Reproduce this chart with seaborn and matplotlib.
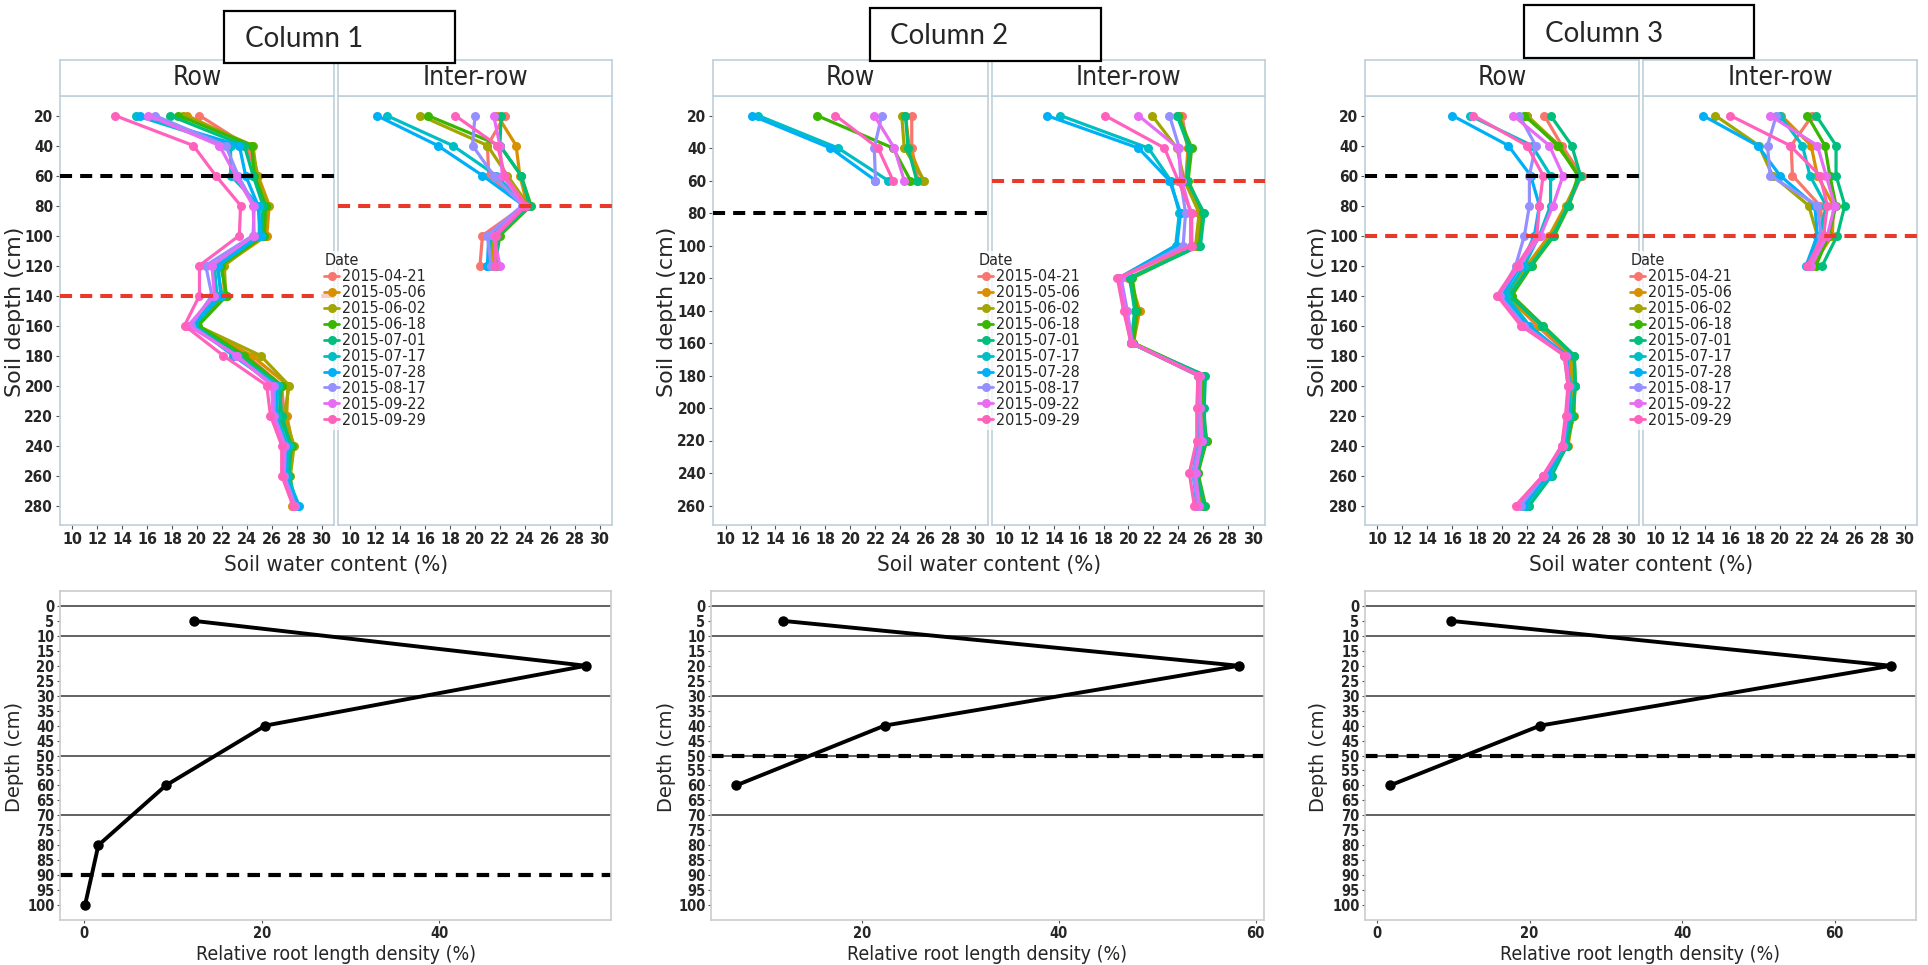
import numpy as np
import pandas as pd
import matplotlib
matplotlib.use("Agg")
import matplotlib.pyplot as plt
import seaborn as sns
from matplotlib import font_manager as fm
from matplotlib.lines import Line2D
from matplotlib.patches import Rectangle

# ---------------- data ----------------
dates = ["2015-04-21", "2015-05-06", "2015-06-02", "2015-06-18", "2015-07-01",
         "2015-07-17", "2015-07-28", "2015-08-17", "2015-09-22", "2015-09-29"]
date_colors = ["#F8766D", "#D89000", "#A3A500", "#39B600", "#00BF7D",
               "#00BFC4", "#00B0F6", "#9590FF", "#E76BF3", "#FF62BC"]

depth_long = [20, 40, 60, 80, 100, 120, 140, 160, 180, 200, 220, 240, 260, 280]
depth_c2 = [20, 40, 60, 80, 100, 120, 140, 160, 180, 200, 220, 240, 260]
depth_short = [20, 40, 60, 80, 100, 120]
depth_c2_row = [20, 40, 60]

# Column 1, Row (rows = dates)
c1_row = [
    [20.2, 24.0, 24.8, 25.6, 25.5, 22.0, 22.3, 19.8, 24.0, 26.8, 27.0, 27.6, 27.2, 27.8],
    [19.2, 24.3, 24.9, 25.8, 25.6, 22.1, 22.2, 19.9, 24.4, 27.3, 27.2, 27.7, 27.4, 27.6],
    [18.9, 24.5, 24.8, 25.7, 25.3, 22.2, 22.3, 20.0, 25.1, 27.4, 27.0, 27.8, 27.5, 27.7],
    [18.5, 24.4, 24.6, 25.5, 25.4, 21.9, 22.4, 20.1, 23.8, 26.8, 26.6, 27.6, 27.3, 27.9],
    [17.8, 23.8, 24.5, 25.3, 25.2, 21.6, 22.0, 19.8, 23.4, 26.6, 26.8, 27.5, 27.4, 28.0],
    [15.1, 22.7, 22.7, 25.0, 25.0, 21.4, 21.6, 19.6, 23.0, 26.5, 26.4, 27.3, 27.2, 28.2],
    [15.4, 23.4, 23.9, 24.9, 25.1, 21.7, 21.9, 19.7, 22.9, 26.3, 26.3, 27.2, 27.1, 28.1],
    [16.6, 22.3, 23.3, 24.6, 24.5, 20.7, 21.2, 19.5, 23.1, 26.2, 26.2, 27.1, 27.0, 27.9],
    [16.1, 21.8, 23.1, 24.5, 24.6, 21.2, 21.4, 19.3, 23.2, 26.0, 26.1, 27.0, 26.9, 27.8],
    [13.4, 19.7, 21.5, 23.5, 23.4, 20.2, 20.2, 19.0, 22.1, 25.6, 25.9, 26.8, 26.8, 27.7],
]
# Column 1, Inter-row
c1_inter = [
    [22.4, 21.0, 21.1, 24.0, 20.6, 20.4],
    [21.8, 23.3, 23.6, 24.2, 21.6, 21.4],
    [15.6, 21.0, 22.6, 24.3, 21.4, 21.2],
    [16.2, 22.0, 23.7, 24.5, 22.0, 21.6],
    [22.1, 22.0, 23.7, 24.4, 21.8, 21.8],
    [12.9, 18.2, 21.7, 24.0, 21.3, 21.0],
    [12.1, 17.0, 20.6, 23.9, 21.1, 21.0],
    [20.0, 19.8, 21.5, 23.8, 21.0, 21.3],
    [21.5, 22.0, 22.2, 23.9, 21.5, 22.0],
    [18.4, 21.8, 22.4, 24.1, 21.7, 21.6],
]
# Column 2, Row
c2_row = [
    [24.9, 24.9, 25.4],
    [24.4, 24.7, 25.8],
    [24.1, 24.3, 25.9],
    [17.3, 23.4, 24.8],
    [24.4, 24.6, 25.3],
    [12.6, 19.0, 23.0],
    [12.1, 18.4, 22.0],
    [22.5, 21.9, 22.0],
    [21.9, 23.5, 24.3],
    [18.8, 22.2, 23.4],
]
# Column 2, Inter-row
c2_inter = [
    [24.3, 24.8, 24.6, 25.7, 25.5, 20.0, 20.8, 20.3, 25.9, 26.0, 26.2, 25.6, 26.0],
    [24.1, 24.8, 24.7, 25.8, 25.6, 20.1, 20.9, 20.4, 26.0, 25.9, 26.3, 25.5, 26.1],
    [21.9, 23.9, 24.5, 25.7, 25.4, 20.2, 20.6, 20.3, 25.9, 25.8, 26.1, 25.4, 25.9],
    [24.0, 25.1, 24.8, 26.0, 25.7, 20.3, 20.7, 20.4, 26.1, 26.0, 26.3, 25.6, 26.2],
    [23.9, 24.9, 24.7, 26.1, 25.8, 20.1, 20.5, 20.2, 26.2, 26.1, 26.2, 25.5, 26.1],
    [14.5, 21.6, 23.4, 24.1, 23.8, 19.3, 19.8, 20.2, 25.6, 25.7, 25.7, 25.3, 25.6],
    [13.4, 20.8, 23.3, 24.2, 23.9, 19.2, 19.7, 20.2, 25.6, 25.6, 25.6, 25.2, 25.5],
    [23.3, 24.1, 24.2, 24.6, 24.4, 19.4, 19.9, 20.3, 25.7, 25.7, 25.8, 25.2, 25.6],
    [20.8, 24.0, 24.3, 25.0, 25.0, 19.3, 19.8, 20.3, 25.8, 25.8, 25.9, 25.4, 25.7],
    [18.1, 22.9, 24.0, 25.1, 25.1, 19.1, 19.6, 20.2, 25.6, 25.5, 25.5, 24.9, 25.3],
]
# Column 3, Row
c3_row = [
    [23.4, 24.8, 26.4, 25.3, 24.1, 22.2, 20.4, 22.8, 25.4, 25.7, 25.6, 25.1, 23.6, 21.6],
    [22.0, 24.4, 26.3, 25.1, 23.8, 22.0, 20.2, 23.0, 25.5, 25.6, 25.7, 25.3, 23.7, 21.8],
    [22.0, 24.6, 26.2, 25.2, 24.0, 22.2, 20.5, 23.2, 25.6, 25.8, 25.8, 25.1, 23.8, 21.9],
    [21.8, 24.5, 26.1, 25.4, 24.2, 22.4, 20.8, 23.3, 25.8, 25.9, 25.7, 25.2, 23.9, 22.1],
    [23.9, 25.6, 26.3, 25.3, 24.1, 22.3, 20.6, 23.2, 25.8, 25.9, 25.6, 25.2, 24.0, 22.2],
    [17.4, 22.4, 23.9, 23.9, 23.0, 21.8, 20.3, 22.2, 25.1, 25.5, 25.4, 25.0, 23.8, 21.9],
    [16.0, 20.5, 22.3, 23.0, 22.6, 21.5, 20.0, 22.0, 25.2, 25.4, 25.3, 24.9, 23.6, 21.7],
    [21.4, 22.7, 22.2, 22.2, 21.8, 21.1, 19.8, 21.8, 25.0, 25.3, 25.2, 24.8, 23.4, 21.5],
    [20.9, 23.8, 24.9, 24.1, 23.1, 21.4, 19.7, 21.6, 25.1, 25.4, 25.2, 24.9, 23.3, 21.2],
    [17.7, 22.0, 23.3, 23.0, 22.8, 21.2, 19.6, 21.5, 25.0, 25.3, 25.1, 24.8, 23.3, 21.1],
]
# Column 3, Inter-row
c3_inter = [
    [22.6, 20.9, 21.0, 23.2, 23.6, 22.5],
    [20.1, 22.5, 23.0, 24.3, 24.2, 22.6],
    [14.8, 18.3, 19.4, 22.3, 23.0, 22.2],
    [22.2, 23.6, 24.0, 24.5, 23.9, 22.9],
    [22.9, 24.5, 24.5, 25.2, 24.6, 23.4],
    [20.0, 21.8, 22.4, 23.7, 23.2, 22.3],
    [13.8, 18.2, 20.0, 22.8, 23.0, 22.1],
    [19.7, 19.0, 19.2, 23.0, 23.3, 22.4],
    [19.2, 23.0, 23.7, 24.4, 23.8, 22.5],
    [16.0, 20.8, 23.2, 23.8, 23.5, 22.2],
]

# Relative root length density
root_depth_c1 = [5, 20, 40, 60, 80, 100]
rld_c1 = [12.4, 56.5, 20.4, 9.2, 1.6, 0.1]
root_depth_c2 = [5, 20, 40, 60]
rld_c2 = [12.0, 58.3, 22.3, 7.2]
root_depth_c3 = [5, 20, 40, 60]
rld_c3 = [9.7, 67.4, 21.4, 1.7]

column_titles = ["Column 1", "Column 2", "Column 3"]
facet_labels = ["Row", "Inter-row"]
swc_ticks = [10, 12, 14, 16, 18, 20, 22, 24, 26, 28, 30]
depth_ticks_bottom = list(range(0, 101, 5))

# reference lines
black_lines = [60, 80, 60]            # Row panel, black dashed
red_lines_row = [140, None, 100]      # Row panel, red dashed
red_lines_inter = [80, 60, 100]       # Inter-row panel, red dashed
solid_lines_bottom = [0, 10, 30, 50, 70]
dashed_bottom = [90, 50, 50]

# ---------------- style ----------------
sns.set_theme(style="white")
plt.rcParams["font.family"] = ["DejaVu Sans"]

names = {f.name for f in fm.fontManager.ttflist}
if "Liberation Sans Narrow" in names:
    NARROW = dict(family="Liberation Sans Narrow")
elif any(f.name == "DejaVu Sans" and f.stretch == "condensed" for f in fm.fontManager.ttflist):
    NARROW = dict(family="DejaVu Sans", stretch="condensed")
else:
    NARROW = dict(family="Liberation Sans")

W, H = 1928, 965
fig = plt.figure(figsize=(W / 100, H / 100), dpi=100)
fig.patch.set_facecolor("white")


def rect(x0, x1, y0, y1):
    return [x0 / W, 1 - y1 / H, (x1 - x0) / W, (y1 - y0) / H]


BORDER = "#bfd0dc"
RED = "#e8392a"

top_cols = [(60, 334, 338, 612), (713, 988, 992, 1265), (1365, 1639, 1643, 1917)]
TOP_Y0, TOP_Y1, STRIP_Y0 = 96, 525, 60
bottom_cols = [(60, 611), (711, 1264), (1365, 1916)]
BOT_Y0, BOT_Y1 = 591, 920
boxes = [(224, 455, 11, 63), (870, 1101, 8, 61), (1524, 1754, 5, 58)]
box_text_x = [245, 890, 1545]
legend_anchor = [(322, 251), (976, 251), (1628, 251)]
ylabel_x = [15, 667, 1318]

panel_sets = [
    (c1_row, depth_long, c1_inter, depth_short, depth_long),
    (c2_row, depth_c2_row, c2_inter, depth_c2, depth_c2),
    (c3_row, depth_long, c3_inter, depth_short, depth_long),
]
roots = [(root_depth_c1, rld_c1), (root_depth_c2, rld_c2), (root_depth_c3, rld_c3)]


def long_df(values, depths):
    rec = []
    for d, vals in zip(dates, values):
        for dep, v in zip(depths, vals):
            rec.append((d, dep, v))
    return pd.DataFrame(rec, columns=["Date", "depth", "swc"])


def style_axes(ax, color):
    for s in ax.spines.values():
        s.set_visible(True)
        s.set_color(color)
        s.set_linewidth(1.2)
    ax.set_facecolor("white")
    ax.grid(False)


for ci in range(3):
    row_vals, row_dep, int_vals, int_dep, ytick_dep = panel_sets[ci]
    xr0, xr1, xi0, xi1 = top_cols[ci]
    ymin, ymax = min(ytick_dep), max(ytick_dep)
    pad = 0.05 * (ymax - ymin)
    for fi, (vals, deps, x0, x1) in enumerate([(row_vals, row_dep, xr0, xr1),
                                                (int_vals, int_dep, xi0, xi1)]):
        ax = fig.add_axes(rect(x0, x1, TOP_Y0, TOP_Y1))
        df = long_df(vals, deps)
        sns.lineplot(data=df, x="swc", y="depth", hue="Date", hue_order=dates,
                     palette=date_colors, sort=False, estimator=None, orient="y",
                     marker="o", markersize=6.5, markeredgewidth=0, linewidth=2.3,
                     legend=False, ax=ax)
        ax.set_xlim(9, 31)
        ax.set_ylim(ymax + pad, ymin - pad)
        ax.set_xticks(swc_ticks)
        ax.set_yticks(ytick_dep)
        ax.set_xlabel("")
        ax.set_ylabel("")
        style_axes(ax, BORDER)
        ax.tick_params(axis="both", length=3, width=0.8, color="#555555", pad=2,
                       bottom=True, left=(fi == 0))
        ax.set_xticklabels([str(t) for t in swc_ticks], fontsize=11.5, fontweight="bold", **NARROW)
        if fi == 0:
            ax.set_yticklabels([str(t) for t in ytick_dep], fontsize=11, fontweight="bold", **NARROW)
            ax.axhline(black_lines[ci], color="black", lw=2.9, dashes=(3, 2), zorder=5)
            if red_lines_row[ci] is not None:
                ax.axhline(red_lines_row[ci], color=RED, lw=2.9, dashes=(3, 2), zorder=5)
        else:
            ax.set_yticklabels([])
            ax.axhline(red_lines_inter[ci], color=RED, lw=2.9, dashes=(3, 2), zorder=5)
        # strip
        sax = fig.add_axes(rect(x0, x1, STRIP_Y0, TOP_Y0))
        sax.set_xticks([])
        sax.set_yticks([])
        style_axes(sax, BORDER)
        sax.text(0.5, 0.5, facet_labels[fi], ha="center", va="center", fontsize=19,
                 transform=sax.transAxes, **NARROW)

    # axis labels
    fig.text((xr0 + xi1) / 2 / W, 1 - 565 / H, "Soil water content (%)", ha="center",
             va="center", fontsize=16, **NARROW)
    fig.text(ylabel_x[ci] / W, 1 - 312 / H, "Soil depth (cm)", ha="center", va="center",
             rotation=90, fontsize=16)

    # column box
    bx0, bx1, by0, by1 = boxes[ci]
    fig.patches.append(Rectangle((bx0 / W, 1 - by1 / H), (bx1 - bx0) / W, (by1 - by0) / H,
                                 transform=fig.transFigure, facecolor="white",
                                 edgecolor="black", lw=1.6, zorder=10))
    fig.text(box_text_x[ci] / W, 1 - ((by0 + by1) / 2 + 2) / H, column_titles[ci],
             ha="left", va="center", fontsize=20, family="Lato", zorder=11)

    # legend
    handles = [Line2D([], [], color=c, marker="o", lw=2.0, ms=6.5, mew=0) for c in date_colors]
    lx, ly = legend_anchor[ci]
    leg = fig.legend(handles, dates, title="Date", loc="upper left",
                     bbox_to_anchor=(lx / W, 1 - ly / H), frameon=True,
                     prop=dict(size=11.5, **NARROW), title_fontproperties=dict(size=11.5, **NARROW),
                     handlelength=0.9, handletextpad=0.2, labelspacing=0.06,
                     borderpad=0.15, borderaxespad=0.0)
    leg.get_frame().set_facecolor("white")
    leg.get_frame().set_alpha(0.75)
    leg.get_frame().set_edgecolor("none")
    leg._legend_box.align = "left"

    # bottom root density panel
    b0, b1 = bottom_cols[ci]
    bax = fig.add_axes(rect(b0, b1, BOT_Y0, BOT_Y1))
    rd, rv = roots[ci]
    for yl in solid_lines_bottom:
        bax.axhline(yl, color="#555555", lw=1.3, zorder=1)
    bax.axhline(dashed_bottom[ci], color="black", lw=3.0, dashes=(3, 2), zorder=2)
    sns.lineplot(x=rv, y=rd, sort=False, estimator=None, orient="y", color="black",
                 lw=2.8, marker="o", markersize=7.5, markeredgewidth=0, ax=bax, zorder=3)
    lo, hi = min(rv), max(rv)
    ex = 0.05 * (hi - lo)
    bax.set_xlim(lo - ex, hi + ex)
    bax.set_ylim(105, -5)
    xt = [t for t in [0, 20, 40, 60] if lo - ex <= t <= hi + ex]
    bax.set_xticks(xt)
    bax.set_xticklabels([str(t) for t in xt], fontsize=10.5, fontweight="bold", **NARROW)
    bax.set_yticks(depth_ticks_bottom)
    bax.set_yticklabels([str(t) for t in depth_ticks_bottom], fontsize=10.5,
                        fontweight="bold", **NARROW)
    style_axes(bax, "#cccccc")
    bax.tick_params(axis="both", length=2.5, width=0.8, color="#555555", pad=1.5,
                    bottom=True, left=True)
    bax.set_xlabel("")
    bax.set_ylabel("")
    fig.text((b0 + b1) / 2 / W, 1 - 964 / H, "Relative root length density (%)",
             ha="center", va="bottom", fontsize=14, **NARROW)
    fig.text(ylabel_x[ci] / W, 1 - 757 / H, "Depth (cm)", ha="center", va="center",
             rotation=90, fontsize=14)

fig.savefig("out.png", dpi=100, facecolor="white")
